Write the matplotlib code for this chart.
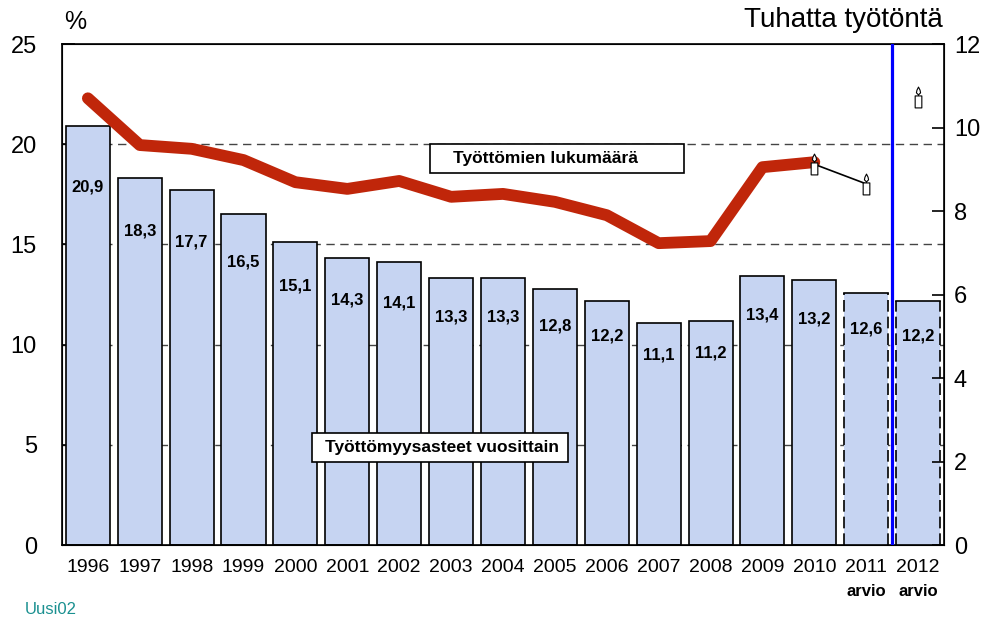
import numpy as np
import matplotlib
matplotlib.use("Agg")
import matplotlib.pyplot as plt
from matplotlib.path import Path
from matplotlib.patches import Rectangle

plt.rcParams['font.family'] = ['Liberation Sans', 'DejaVu Sans']

# data
years = ['1996', '1997', '1998', '1999', '2000', '2001', '2002', '2003', '2004',
         '2005', '2006', '2007', '2008', '2009', '2010', '2011', '2012']
rate = [20.9, 18.3, 17.7, 16.5, 15.1, 14.3, 14.1, 13.3, 13.3, 12.8, 12.2, 11.1,
        11.2, 13.4, 13.2, 12.6, 12.2]
estimate_years = ['2011', '2012']
# työttömien lukumäärä, tuhatta
count = [10.7, 9.58, 9.49, 9.22, 8.69, 8.53, 8.72, 8.34, 8.41, 8.22, 7.90, 7.23,
         7.28, 9.05, 9.17]
fc_line_years = ['2010', '2011']
fc_line = [9.12, 8.65]
fc_2012 = 10.73

x = np.arange(len(years))
xi = {y: i for i, y in enumerate(years)}

# kynttilä-merkki
body = [(-0.32, -1.0), (0.32, -1.0), (0.32, 0.15), (-0.32, 0.15), (-0.32, -1.0)]
flame = [(0, 0.25), (0.2, 0.45), (0.15, 0.7), (0, 1.0), (-0.15, 0.7), (-0.2, 0.45), (0, 0.25)]
verts = body + flame
codes = ([Path.MOVETO] + [Path.LINETO] * 3 + [Path.CLOSEPOLY] +
         [Path.MOVETO] + [Path.LINETO] * 5 + [Path.CLOSEPOLY])
candle = Path(verts, codes)

fig = plt.figure(figsize=(9.99, 6.19), dpi=100)
ax = fig.add_axes([0.062, 0.1195, 0.883, 0.8094])

bar_col = '#c6d4f2'
bars = ax.bar(x, rate, width=0.85, color=bar_col, edgecolor='black', linewidth=1.2, zorder=2)
for i, b in enumerate(bars):
    if years[i] in estimate_years:
        # arviot: yläreuna yhtenäinen, sivut katkoviivalla
        b.set_edgecolor('none')
        x0, x1, h = b.get_x(), b.get_x() + b.get_width(), b.get_height()
        ax.plot([x0, x1], [h, h], color='black', lw=1.2, zorder=2.5)
        ax.plot([x0, x0], [0, h], color='black', lw=1.2, ls=(0, (7, 3)), zorder=2.5)
        ax.plot([x1, x1], [0, h], color='black', lw=1.2, ls=(0, (7, 3)), zorder=2.5)
for i, v in enumerate(rate):
    ax.text(x[i], 0.855 * v, f"{v:.1f}".replace('.', ','), ha='center', va='center',
            fontsize=12, fontweight='bold', zorder=3)

ax.set_xlim(-0.5, len(years) - 0.5)
ax.set_ylim(0, 25)
ax.set_yticks([0, 5, 10, 15, 20, 25])
for g in [5, 10, 15, 20]:
    ax.axhline(g, color='#444444', lw=1, ls=(0, (6, 4)), zorder=1)
ax.set_xticks(x)
ax.set_xticklabels(years, fontsize=14)
ax.tick_params(axis='x', length=0, pad=10)
ax.tick_params(axis='y', direction='in', length=9, width=1.2, labelsize=17, pad=18)
for s in ax.spines.values():
    s.set_linewidth(1.2)

for y in estimate_years:
    ax.text(xi[y], -0.093, 'arvio', transform=ax.get_xaxis_transform(), ha='center',
            va='center', fontsize=12, fontweight='bold')

ax2 = ax.twinx()
ax2.set_ylim(0, 12)
ax2.set_yticks(range(0, 13, 2))
ax2.tick_params(axis='y', direction='in', length=9, width=1.2, labelsize=17, pad=7)
ax2.plot(x[:len(count)], count, color='#c0260a', lw=8.5, solid_capstyle='round',
         solid_joinstyle='round', zorder=3)
ax2.plot([xi[y] for y in fc_line_years], fc_line, color='black', lw=1.2, zorder=4)
ax2.plot([xi[y] for y in fc_line_years] + [xi['2012']], fc_line + [fc_2012], ls='none',
         marker=candle, markersize=15, markerfacecolor='white', markeredgecolor='black',
         markeredgewidth=0.8, zorder=5)
ax2.axvline(xi['2011'] + 0.5, color='#0000ff', lw=2.3, zorder=4)

# selitelaatikot
for (bx, by, bw, tx, label) in [(0.4304, 0.7205, 0.2543, 0.4535, 'Työttömien lukumäärä'),
                                (0.3123, 0.2536, 0.2563, 0.3253, 'Työttömyysasteet vuosittain')]:
    fig.patches.append(Rectangle((bx, by), bw, 0.0468, transform=fig.transFigure,
                                 facecolor='white', edgecolor='black', lw=1.2, zorder=10))
    fig.text(tx, by + 0.0234, label, fontsize=12.5, fontweight='bold', va='center',
             ha='left', zorder=11)

fig.text(0.064, 0.965, '%', fontsize=18, va='center', ha='left')
fig.text(0.944, 0.968, 'Tuhatta työtöntä', fontsize=20, va='center', ha='right')
fig.text(0.025, 0.015, 'Uusi02', fontsize=12, color='#1a9090', va='center', ha='left')

fig.savefig('out.png', dpi=100)
